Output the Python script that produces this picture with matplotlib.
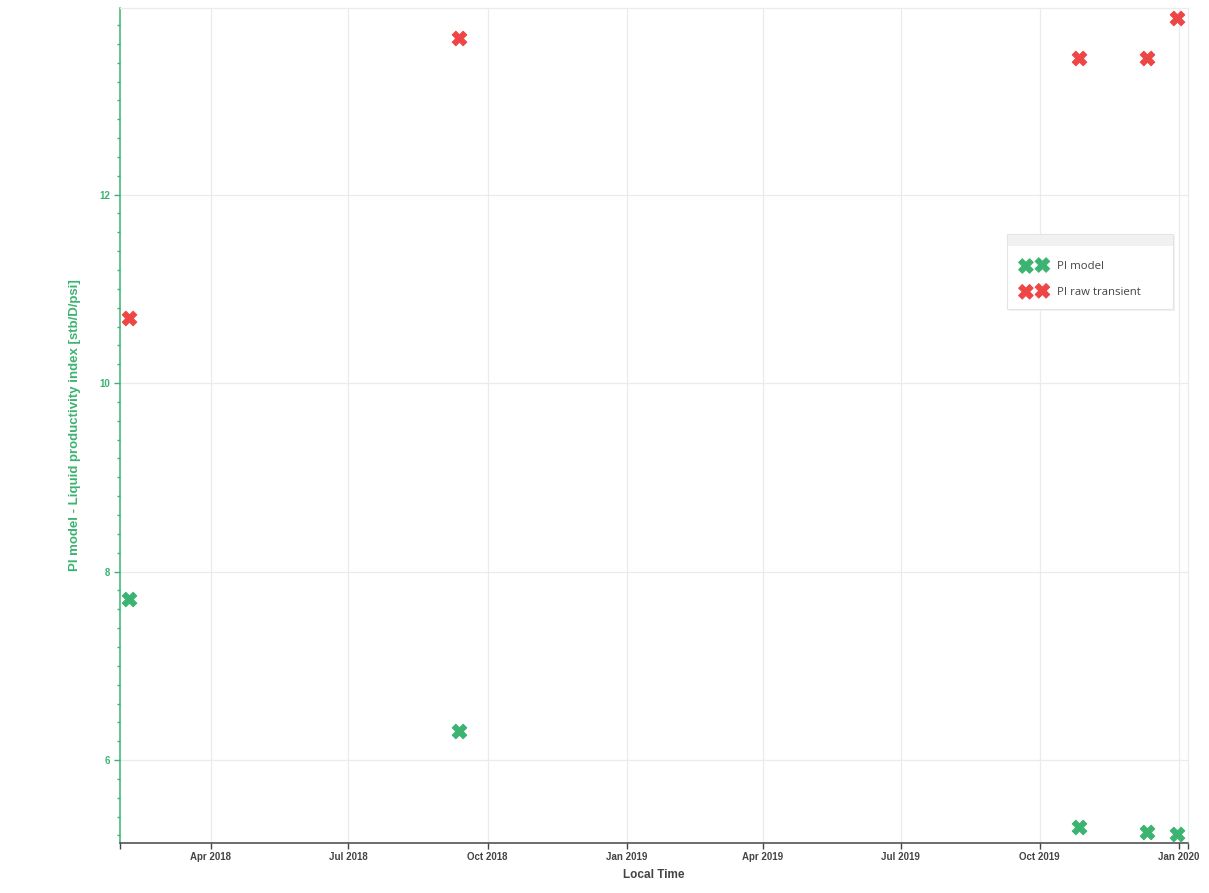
import numpy as np
import pandas as pd
import matplotlib
matplotlib.use("Agg")
import matplotlib.pyplot as plt
import matplotlib.dates as mdates
from matplotlib.patches import Rectangle
from matplotlib.ticker import MultipleLocator, FixedLocator
from matplotlib.font_manager import FontProperties

# data
dates = pd.to_datetime(["2018-02-06", "2018-09-12", "2019-10-27", "2019-12-11", "2019-12-31"])
pi_model = [7.71, 6.31, 5.29, 5.24, 5.22]
pi_raw = [10.69, 13.66, 13.45, 13.45, 13.87]

green = "#3cb371"
red = "#ee4545"
dark = "#444444"

W, H = 1209, 893
fig = plt.figure(figsize=(W / 100, H / 100), dpi=100)
ax = fig.add_axes([120 / W, 1 - 843 / H, (1188 - 120) / W, (843 - 8) / H])

mk = dict(marker="X", s=110, linewidths=0.7, zorder=3)
ax.scatter(dates, pi_model, color=green, edgecolors=green, label="PI model", **mk)
ax.scatter(dates, pi_raw, color=red, edgecolors=red, label="PI raw transient", **mk)

ax.set_xlim(pd.Timestamp("2018-01-31"), pd.Timestamp("2020-01-07"))
ax.set_ylim(5.12, 13.98)

ax.xaxis.set_major_locator(mdates.MonthLocator(bymonth=[1, 4, 7, 10]))
ax.xaxis.set_major_formatter(mdates.DateFormatter("%b %Y"))
ax.xaxis.set_minor_locator(FixedLocator(list(ax.get_xlim())))
ax.yaxis.set_major_locator(MultipleLocator(2))
ax.yaxis.set_minor_locator(MultipleLocator(0.2))

ax.grid(True, which="major", color="#ebebeb", linewidth=0.9)
ax.set_axisbelow(True)

for side in ["top", "right"]:
    ax.spines[side].set_color("#ebebeb")
    ax.spines[side].set_linewidth(0.9)
ax.spines["left"].set_color(green)
ax.spines["left"].set_linewidth(1.1)
ax.spines["bottom"].set_color(dark)
ax.spines["bottom"].set_linewidth(1.1)

tick_font = FontProperties(family="Liberation Sans", weight="bold", size=7)
ax.tick_params(axis="y", which="major", length=4.5, width=1, color=green, labelcolor=green, pad=2.5)
ax.tick_params(axis="y", which="minor", length=2.5, width=1, color=green)
ax.tick_params(axis="x", which="major", length=4.5, width=1, color=dark, labelcolor=dark, pad=2)
ax.tick_params(axis="x", which="minor", length=4.5, width=1, color=dark)
for lab in ax.get_xticklabels() + ax.get_yticklabels():
    lab.set_fontproperties(tick_font)

ax.set_xlabel("Local Time", family="Liberation Sans", weight="bold", size=8.5, color=dark, labelpad=5)
ax.set_ylabel("PI model - Liquid productivity index [stb/D/psi]", family="Liberation Sans",
              weight="bold", size=9.5, color=green, labelpad=13)

# legend box and header band (bokeh style), in pixel coordinates
box = [
    ((1007 + 2, H - 309 - 2), "#f2f2f2", "none", 4),
    ((1007, H - 309), "white", "#e4e4e4", 5),
]
for xy, fc, ec, z in box:
    ax.add_artist(Rectangle(xy, 166, 75, transform=None, facecolor=fc, edgecolor=ec,
                            linewidth=0.8, zorder=z, clip_on=False))
ax.add_artist(Rectangle((1007.5, H - 246), 165, 11.5, transform=None, facecolor="#f1f1f1",
                        edgecolor="none", zorder=6, clip_on=False))

fs = 8.2
fpx = fs * 100 / 72
leg = ax.legend(loc="upper left", bbox_to_anchor=(1022.5 / W, 1 - 261 / H),
                bbox_transform=fig.transFigure, scatterpoints=2, frameon=False,
                prop={"family": "Open Sans", "size": fs}, labelspacing=1.3, borderpad=0,
                handlelength=(16.5 + 2 * 0.3 * fpx) / fpx, handletextpad=(1053 - 1041.5) / fpx,
                markerscale=1.0, borderaxespad=0)
leg.set_zorder(10)
for t in leg.get_texts():
    t.set_color(dark)

fig.savefig("out.png", dpi=100)
